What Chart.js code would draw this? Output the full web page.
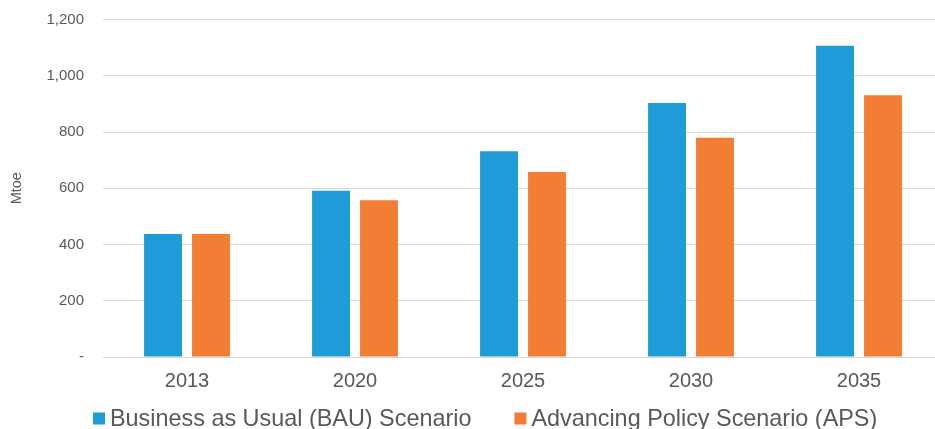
<!DOCTYPE html>
<html>
<head>
<meta charset="utf-8">
<script src="https://cdn.jsdelivr.net/npm/chart.js@4/dist/chart.umd.min.js"></script>
<style>
  html, body { margin: 0; padding: 0; background: #fff; overflow: hidden; }
  #wrap { width: 945px; height: 429px; }
</style>
</head>
<body>
<div id="wrap"><canvas id="chart" width="945" height="429"></canvas></div>
<script>
// Primary energy demand, Mtoe.
const years = ['2013', '2020', '2025', '2030', '2035'];
const bau = [437, 591, 732, 903, 1107];
const aps = [437, 557, 658, 780, 931];

const TEXT = '#595959';
const GRID = '#d9d9d9';
const FONT = 'Liberation Sans, Arial, sans-serif';

// Legend drawn by hand: the built-in one ties item spacing to its vertical padding.
const bottomLegend = {
  id: 'bottomLegend',
  afterDraw(chart) {
    const ctx = chart.ctx;
    ctx.save();
    ctx.font = `23.4px ${FONT}`;
    ctx.textBaseline = 'alphabetic';
    ctx.textAlign = 'left';
    let x = 93;
    for (const ds of chart.data.datasets) {
      ctx.fillStyle = ds.backgroundColor;
      ctx.fillRect(x, 412.5, 12, 12);
      ctx.fillStyle = TEXT;
      ctx.fillText(ds.label, x + 17, 425.5);
      x += 17 + ctx.measureText(ds.label).width + 43;
    }
    ctx.restore();
  },
};

new Chart(document.getElementById('chart'), {
  type: 'bar',
  data: {
    labels: years,
    datasets: [
      { label: 'Business as Usual (BAU) Scenario', data: bau, backgroundColor: '#1f9bd8' },
      { label: 'Advancing Policy Scenario (APS)', data: aps, backgroundColor: '#f37e33' },
    ],
  },
  plugins: [bottomLegend],
  options: {
    responsive: false,
    animation: false,
    layout: { padding: { top: 19.5, right: 2, left: 0, bottom: 36 } },
    datasets: { bar: { barPercentage: 0.79, categoryPercentage: 0.571 } },
    plugins: {
      tooltip: { enabled: false },
      legend: { display: false },
    },
    scales: {
      x: {
        grid: { display: false, drawTicks: false },
        border: { display: false },
        ticks: { color: TEXT, font: { family: FONT, size: 20 }, padding: 12 },
        afterFit: s => { s.height = 36; },
      },
      y: {
        min: 0,
        max: 1200,
        grid: { color: GRID, drawTicks: false },
        border: { display: false },
        ticks: {
          stepSize: 200,
          color: TEXT,
          padding: 19,
          font: { family: FONT, size: 15 },
          callback: v => v === 0 ? '-' : v.toLocaleString('en-US'),
        },
        title: {
          display: true,
          text: 'Mtoe',
          color: TEXT,
          font: { family: FONT, size: 14.5 },
          padding: { top: 8.5, bottom: 0 },
        },
        // tick padding would otherwise push the plot down; fix width and edges
        afterFit: s => { s.width = 103; s.paddingTop = 0; s.paddingBottom = 0; },
      },
    },
  },
});
</script>
</body>
</html>
